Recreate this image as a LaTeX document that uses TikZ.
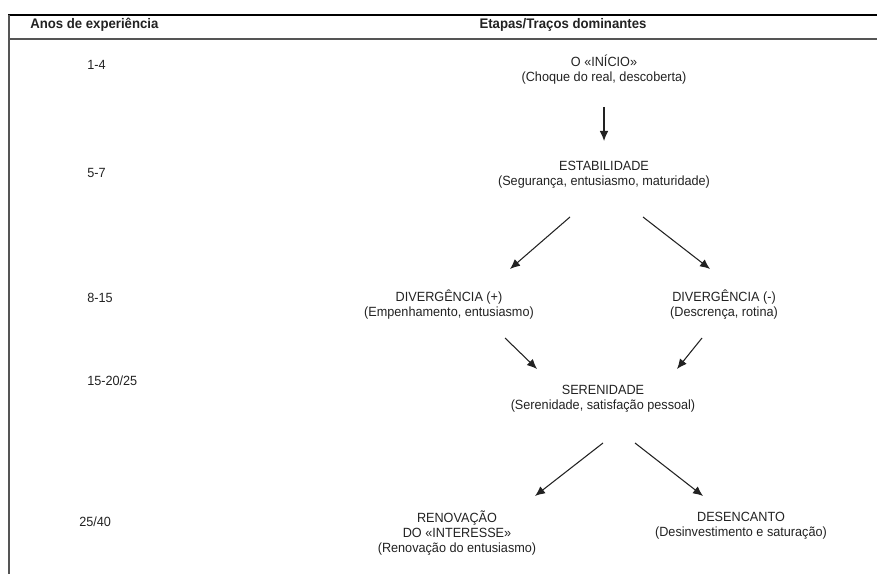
\documentclass[tikz,border=0pt]{standalone}
\usepackage{fontspec}
\setmainfont{Liberation Sans}[FakeStretch=0.95]
\usetikzlibrary{arrows.meta}
\definecolor{ink}{HTML}{222222}
\definecolor{rule}{HTML}{555555}
\tikzset{
  txt/.style={font=\fontsize{10pt}{11.25pt}\selectfont, text=ink, align=center, inner sep=0pt},
  yrs/.style={font=\fontsize{10pt}{11.25pt}\selectfont, text=ink, anchor=west, inner sep=0pt},
  head/.style={font=\bfseries\fontsize{10.4pt}{12pt}\selectfont, text=ink, inner sep=0pt},
  arr/.style={draw=ink, line width=0.8pt, -{Latex[length=7.5pt,width=6.5pt]}},
}
\begin{document}
\begin{tikzpicture}[x=0.75pt,y=-0.75pt]
\useasboundingbox (0,0) rectangle (877,574);
% table rules
\draw[line width=1.1pt, black] (8,15) -- (877,15);
\draw[line width=1.1pt, rule] (8,39) -- (877,39);
\draw[line width=1.1pt, rule] (9,15) -- (9,574);
% headers
\node[head, anchor=west] (h1) at (30,25) {Anos de experiência};
\node[head] (h2) at (563,25) {Etapas/Traços dominantes};
% years
\node[yrs] (y1) at (87,65) {1-4};
\node[yrs] (y2) at (87,173) {5-7};
\node[yrs] (y3) at (87,298) {8-15};
\node[yrs] (y4) at (87,381) {15-20/25};
\node[yrs] (y5) at (79,522) {25/40};
% stages
\node[txt] (inicio) at (604,70) {O «INÍCIO»\\(Choque do real, descoberta)};
\node[txt] (estab) at (604,175) {ESTABILIDADE\\(Segurança, entusiasmo, maturidade)};
\node[txt] (divp) at (449,305) {DIVERGÊNCIA (+)\\(Empenhamento, entusiasmo)};
\node[txt] (divm) at (724,305) {DIVERGÊNCIA (-)\\(Descrença, rotina)};
\node[txt] (seren) at (603,399) {SERENIDADE\\(Serenidade, satisfação pessoal)};
\node[txt] (renov) at (457,533) {RENOVAÇÃO\\DO «INTERESSE»\\(Renovação do entusiasmo)};
\node[txt] (desenc) at (741,526) {DESENCANTO\\(Desinvestimento e saturação)};
% arrows
\draw[arr] ([shift={(0,37)}]inicio.center) -- ([shift={(0,-34)}]estab.center);
\draw[arr] ([shift={(-34,42)}]estab.center) -- ([shift={(61,-36)}]divp.center);
\draw[arr] ([shift={(39,42)}]estab.center) -- ([shift={(-14,-36)}]divm.center);
\draw[arr] ([shift={(56,33)}]divp.center) -- ([shift={(-66,-30)}]seren.center);
\draw[arr] ([shift={(-22,33)}]divm.center) -- ([shift={(74,-30)}]seren.center);
\draw[arr] ([shift={(0,44)}]seren.center) -- ([shift={(78,-37)}]renov.center);
\draw[arr] ([shift={(32,44)}]seren.center) -- ([shift={(-38,-30)}]desenc.center);
\end{tikzpicture}
\end{document}
